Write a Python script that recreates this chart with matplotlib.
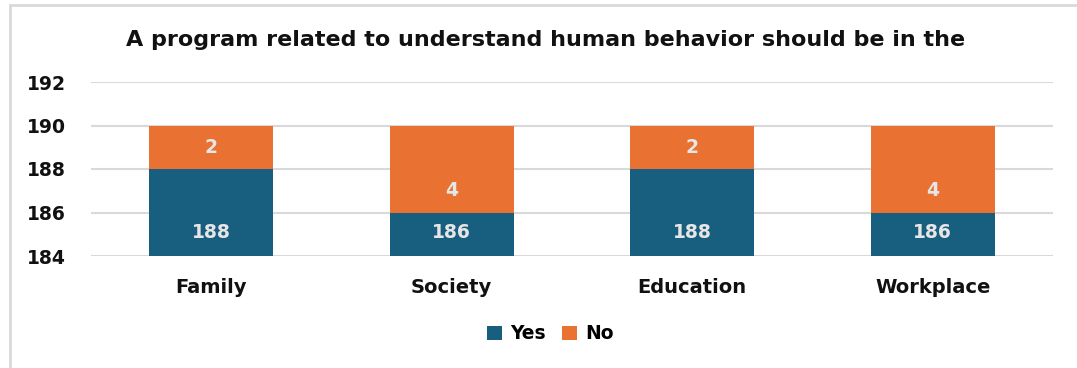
import matplotlib.pyplot as plt
from matplotlib.patches import Rectangle
import numpy as np

categories = ["Family", "Society", "Education", "Workplace"]
yes_values = [188, 186, 188, 186]
no_values = [2, 4, 2, 4]
y_ticks = [184, 186, 188, 190, 192]

plt.rcParams['font.family'] = ['DejaVu Sans']

blue = "#175E7F"
orange = "#E97132"
grid_col = "#D9D9D9"
label_col = "#E6E6E6"

fig = plt.figure(figsize=(10.77, 3.68), dpi=100)
ax = fig.add_axes([91 / 1077, 1 - 256 / 368, 962 / 1077, 174 / 368])

# chart border (cut off at right and bottom like the screenshot)
fig.patches.append(Rectangle((9.5 / 1077, -0.5), 1.5, 0.5 + 1 - 4.5 / 368,
                             transform=fig.transFigure, fill=False,
                             edgecolor=grid_col, linewidth=2, zorder=0))

x = np.arange(len(categories))
ymin = y_ticks[0]
yes = np.array(yes_values)
no = np.array(no_values)

ax.bar(x, yes - ymin, bottom=ymin, width=0.516, color=blue, label="Yes", zorder=3)
ax.bar(x, no, bottom=yes, width=0.516, color=orange, label="No", zorder=3)

for i in range(len(categories)):
    ax.text(x[i], ymin + 1.1, str(yes[i]), ha="center", va="center",
            color=label_col, fontsize=13.5, fontweight="bold", zorder=4)
    ax.text(x[i], yes[i] + 1.0, str(no[i]), ha="center", va="center",
            color=label_col, fontsize=13.5, fontweight="bold", zorder=4)

ax.set_xlim(-0.5, len(categories) - 0.5)
ax.set_ylim(y_ticks[0], y_ticks[-1])
ax.set_yticks(y_ticks)
ax.set_xticks(x)
ax.set_xticklabels(categories, fontsize=14, fontweight="bold", color="#111111")
ax.set_yticklabels([str(v) for v in y_ticks], fontsize=13.5, fontweight="bold", color="#111111")
ax.tick_params(axis="both", length=0)
ax.tick_params(axis="y", pad=18)
ax.tick_params(axis="x", pad=16)
ax.yaxis.grid(True, color=grid_col, linewidth=1.5, zorder=0)
ax.set_axisbelow(True)
for s in ax.spines.values():
    s.set_visible(False)

fig.text(0.507, 0.891, "A program related to understand human behavior should be in the",
         ha="center", va="center", fontsize=16, fontweight="bold", color="#111111")

fig.legend(loc="center", bbox_to_anchor=(0.511, 0.093), ncol=2, frameon=False,
           prop={"size": 13.5, "weight": "bold"}, handlelength=0.8, handleheight=0.8,
           handletextpad=0.4, columnspacing=0.9)

fig.savefig("out.png", dpi=100)
